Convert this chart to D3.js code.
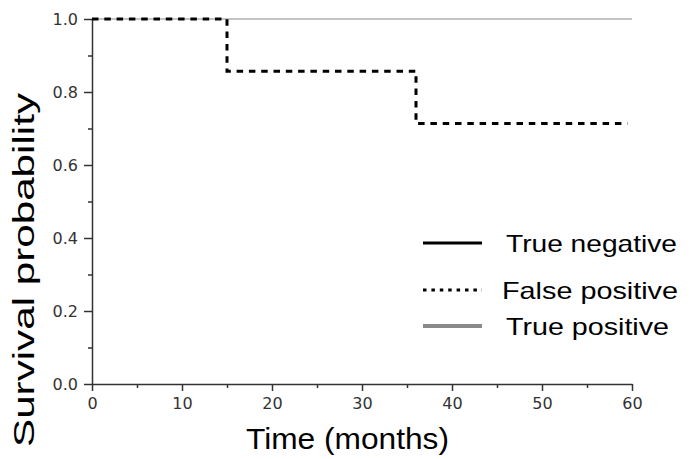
<!DOCTYPE html>
<html>
<head>
<meta charset="utf-8">
<script src="https://cdn.jsdelivr.net/npm/d3@7"></script>
<style>
body { margin: 0; background: #fff; }
svg { display: block; }
.tick text { font-family: "DejaVu Sans", sans-serif; font-size: 16px; fill: #333; }
.axis path, .axis line { stroke: #333; stroke-width: 1.5; }
</style>
</head>
<body>
<svg id="chart" width="692" height="459"></svg>
<script>
// series: months and survival probability
var tnTime = [0, 60]
var tnSurv = [1, 1]
var fpTime = [0, 15, 36, 59.5]
var fpSurv = [1, 0.857, 0.714, 0.714]
var tpTime = [0, 60]
var tpSurv = [1, 1]

var xMajor = [0, 10, 20, 30, 40, 50, 60]
var xMinor = [5, 15, 25, 35, 45, 55]
var yMajor = [0, 0.2, 0.4, 0.6, 0.8, 1.0]
var yMinor = [0.1, 0.3, 0.5, 0.7, 0.9]

var legendNames = ['True negative', 'False positive', 'True positive']

var svg = d3.select('#chart')
var x = d3.scaleLinear().domain([0, 60]).range([92, 632])
var y = d3.scaleLinear().domain([0, 1]).range([384, 19])

function pts(t, s) { return t.map((d, i) => [d, s[i]]) }
var line = d3.line().x(d => x(d[0])).y(d => y(d[1])).curve(d3.curveStepAfter)

// axes
var gx = svg.append('g').attr('class', 'axis').attr('transform', 'translate(0,' + y(0) + ')')
gx.call(d3.axisBottom(x).tickValues(xMajor).tickSize(7).tickPadding(7).tickSizeOuter(0).tickFormat(d3.format('d')))
svg.append('g').attr('class', 'axis').attr('transform', 'translate(0,' + y(0) + ')')
	.call(d3.axisBottom(x).tickValues(xMinor).tickSize(4).tickSizeOuter(0).tickFormat(''))
	.select('.domain').remove()

var gy = svg.append('g').attr('class', 'axis').attr('transform', 'translate(' + x(0) + ',0)')
gy.call(d3.axisLeft(y).tickValues(yMajor).tickSize(8).tickPadding(6).tickSizeOuter(0).tickFormat(d3.format('.1f')))
svg.append('g').attr('class', 'axis').attr('transform', 'translate(' + x(0) + ',0)')
	.call(d3.axisLeft(y).tickValues(yMinor).tickSize(4).tickSizeOuter(0).tickFormat(''))
	.select('.domain').remove()

// curves
svg.append('path').datum(pts(tnTime, tnSurv)).attr('d', line)
	.attr('fill', 'none').attr('stroke', '#000').attr('stroke-width', 2)
svg.append('path').datum(pts(tpTime, tpSurv)).attr('d', line)
	.attr('fill', 'none').attr('stroke', '#c4c4c4').attr('stroke-width', 2.2)
svg.append('path').datum(pts(fpTime, fpSurv)).attr('d', line)
	.attr('fill', 'none').attr('stroke', '#000').attr('stroke-width', 3)
	.attr('stroke-dasharray', '6.5,5.8')

// axis titles
svg.append('text').attr('x', 246).attr('y', 449)
	.attr('textLength', 203).attr('lengthAdjust', 'spacingAndGlyphs')
	.style('font-family', '"Liberation Sans", Arial, sans-serif').style('font-size', '30px')
	.text('Time (months)')
svg.append('text').attr('transform', 'translate(34,447) rotate(-90)')
	.attr('textLength', 354).attr('lengthAdjust', 'spacingAndGlyphs')
	.style('font-family', '"Liberation Sans", Arial, sans-serif').style('font-size', '29px')
	.text('Survival probability')

// legend
var legY = [243, 290, 326]
var legTextX = [506, 502, 506]
var legTextW = [171, 176, 163]
var legStroke = ['#000', '#000', '#8a8a8a']
var legWidth = [3, 3, 4]
var legDash = [null, '3.5,4.9', null]
var leg = svg.append('g')
legendNames.forEach(function(name, i) {
	leg.append('line').attr('x1', 423).attr('x2', 482).attr('y1', legY[i]).attr('y2', legY[i])
		.attr('stroke', legStroke[i]).attr('stroke-width', legWidth[i])
		.attr('stroke-dasharray', legDash[i])
	leg.append('text').attr('x', legTextX[i]).attr('y', legY[i] + 9)
		.attr('textLength', legTextW[i]).attr('lengthAdjust', 'spacingAndGlyphs')
		.style('font-family', '"Liberation Sans", Arial, sans-serif').style('font-size', '24px')
		.text(name)
})
</script>
</body>
</html>
